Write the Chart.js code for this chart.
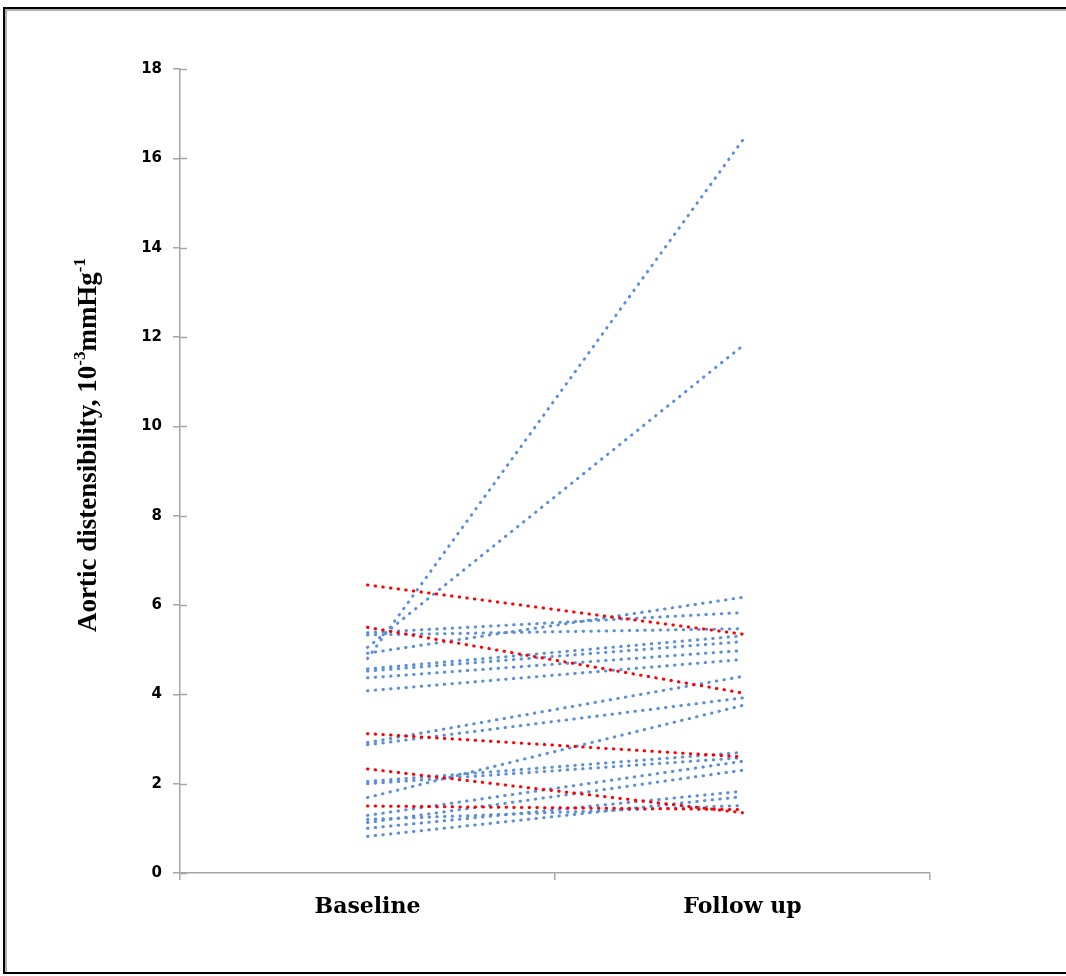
<!DOCTYPE html>
<html>
<head>
<meta charset="utf-8">
<script src="https://cdn.jsdelivr.net/npm/chart.js@4.4.1/dist/chart.umd.min.js"></script>
<style>
  html, body { margin: 0; padding: 0; background: #fff; overflow: hidden; }
  #wrap { position: relative; width: 1066px; height: 976px; overflow: hidden; }
  #frame { position: absolute; left: 3px; top: 7px; width: 1070px; height: 963px;
           border: 2px solid #000; border-right: none; box-shadow: inset 2px 2px 0 #b0b0b0; box-sizing: content-box; pointer-events: none; }
  canvas { position: absolute; left: 0; top: 0; }
</style>
</head>
<body>
<div id="wrap">
  <canvas id="c" width="1066" height="976"></canvas>
  <div id="frame"></div>
</div>
<script>
// ---- data ----
const categories = ['Baseline', 'Follow up'];
const yTicks = [0, 2, 4, 6, 8, 10, 12, 14, 16, 18];

// patients whose distensibility increased (blue)
const blueBaseline = [5.38, 5.33, 5.05, 4.80, 4.92, 4.57, 4.52, 4.37, 4.08, 2.92, 2.87, 2.05, 2.00, 1.69, 1.29, 1.13, 1.00, 0.82, 1.20];
const blueFollowup = [5.83, 5.47, 11.8, 16.4, 6.17, 5.31, 5.18, 4.98, 4.78, 4.40, 3.92, 2.70, 2.58, 3.75, 2.50, 2.30, 1.83, 1.71, 1.51];

// patients whose distensibility decreased (red)
const redBaseline = [6.45, 5.50, 3.12, 2.33, 1.50];
const redFollowup = [5.35, 4.03, 2.60, 1.35, 1.42];

const blueColor = '#5b8fd9';
const redColor = '#ff0000';
const axisColor = '#a6a6a6';

function makeSet(b, f, color) {
  return {
    data: [b, f],
    borderColor: color,
    backgroundColor: color,
    borderWidth: 3,
    borderDash: [0.5, 7.2],
    borderCapStyle: 'round',
    pointRadius: 0,
    tension: 0,
    fill: false
  };
}

const datasets = [];
redBaseline.forEach((b, i) => datasets.push(makeSet(b, redFollowup[i], redColor)));
blueBaseline.forEach((b, i) => datasets.push(makeSet(b, blueFollowup[i], blueColor)));

// inner half of the crossing y tick marks + rotated axis title with superscripts
const extras = {
  id: 'extras',
  afterDraw(chart) {
    const ctx = chart.ctx;
    const ys = chart.scales.y;
    const area = chart.chartArea;
    ctx.save();
    ctx.strokeStyle = axisColor;
    ctx.lineWidth = 1.5;
    ys.ticks.forEach(t => {
      const py = Math.round(ys.getPixelForValue(t.value)) + 0.5;
      ctx.beginPath();
      ctx.moveTo(area.left, py);
      ctx.lineTo(area.left + 7, py);
      ctx.stroke();
    });
    ctx.restore();

    // axis title
    const fs = 27;
    const big = 'bold ' + fs + 'px "Liberation Serif"';
    const small = 'bold ' + Math.round(fs * 0.62) + 'px "Liberation Serif"';
    const parts = [
      ['Aortic distensibility, 10', big, 0],
      ['-3', small, -fs * 0.42],
      ['mmHg', big, 0],
      ['-1', small, -fs * 0.42]
    ];
    ctx.save();
    let total = 0;
    parts.forEach(p => { ctx.font = p[1]; total += ctx.measureText(p[0]).width; });
    const bx = area.left - 84;
    const cy = (area.top + area.bottom) / 2 - 26;
    ctx.translate(bx, cy);
    ctx.rotate(-Math.PI / 2);
    ctx.fillStyle = '#000';
    ctx.textBaseline = 'alphabetic';
    let x = -total / 2;
    parts.forEach(p => {
      ctx.font = p[1];
      ctx.fillText(p[0], x, p[2]);
      x += ctx.measureText(p[0]).width;
    });
    ctx.restore();
  }
};

new Chart(document.getElementById('c'), {
  type: 'line',
  data: { labels: categories, datasets },
  options: {
    responsive: false,
    animation: false,
    events: [],
    layout: { padding: { top: 69, right: 136, bottom: 0, left: 0 } },
    plugins: { legend: { display: false }, tooltip: { enabled: false }, title: { display: false } },
    scales: {
      x: {
        type: 'category',
        offset: true,
        grid: { offset: true, drawOnChartArea: false, tickLength: 7, color: axisColor, lineWidth: 1.5 },
        border: { color: axisColor, width: 1.5 },
        ticks: { color: '#000', padding: 14, font: { family: '"DejaVu Serif"', weight: 'bold', size: 22 } },
        afterFit: s => { s.height = 103; }
      },
      y: {
        min: 0, max: 18,
        afterBuildTicks: s => { s.ticks = yTicks.map(v => ({ value: v })); },
        grid: { drawOnChartArea: false, tickLength: 7, color: axisColor, lineWidth: 1.5 },
        border: { color: axisColor, width: 1.5 },
        ticks: { color: '#000', padding: 11, font: { family: '"DejaVu Sans"', weight: 'bold', size: 15 } },
        afterFit: s => { s.width = 180; }
      }
    }
  },
  plugins: [extras]
});
</script>
</body>
</html>
